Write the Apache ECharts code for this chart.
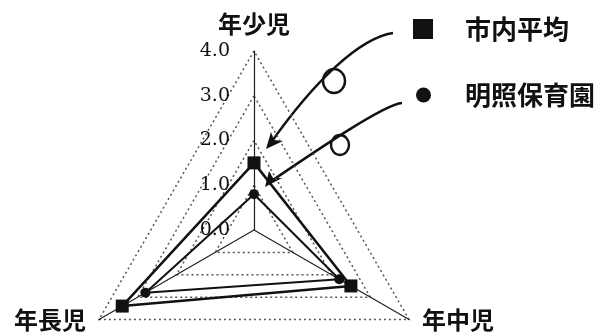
<!DOCTYPE html>
<html>
<head>
<meta charset="utf-8">
<script src="https://cdn.jsdelivr.net/npm/echarts@6/dist/echarts.min.js"></script>
<style>
  html, body { margin: 0; padding: 0; background: #fff; }
  #main { width: 604px; height: 332px; }
</style>
</head>
<body>
<div id="main"></div>
<script>
// 軸（年齢区分）
var indicators = ['年少児', '年長児', '年中児'];
var axisMax = 4;
// 系列の値
var cityAvg = [1.5, 3.4, 2.5];     // 市内平均
var meisho = [0.8, 2.8, 2.2];      // 明照保育園
var seriesNames = ['市内平均', '明照保育園'];

window.addEventListener("load", function () {
    var myChart = echarts.init(document.getElementById('main'));

    var cjk = '"Noto Sans CJK JP", sans-serif';
    var nameFont = { color: '#111', fontFamily: cjk, fontSize: 24, fontWeight: 'bold' };

    var option = {
        animation: false,
        backgroundColor: '#fff',
        legend: [
            {
                data: [{ name: seriesNames[0], icon: 'rect' }],
                left: 413, top: 16,
                padding: 0,
                itemWidth: 20, itemHeight: 20,
                selectedMode: false,
                textStyle: { fontFamily: cjk, fontSize: 26, fontWeight: 'bold', color: '#111', padding: [10, 0, 0, 27] }
            },
            {
                data: [{ name: seriesNames[1], icon: 'circle' }],
                left: 416, top: 82,
                padding: 0,
                itemWidth: 15, itemHeight: 15,
                selectedMode: false,
                textStyle: { fontFamily: cjk, fontSize: 26, fontWeight: 'bold', color: '#111', padding: [0, 0, 0, 29] }
            }
        ],
        radar: {
            center: [254, 230],
            radius: 179,
            startAngle: 90,
            splitNumber: 4,
            shape: 'polygon',
            nameGap: 15,
            axisName: {
                color: '#111',
                fontFamily: cjk,
                fontSize: 24,
                fontWeight: 'bold',
                // 上の軸名はそのまま、下の2つは少し上げる
                formatter: function (name) {
                    return name === indicators[0] ? '{t|' + name + '}' : '{b|' + name + '}';
                },
                rich: {
                    t: nameFont,
                    b: echarts.util.extend({ padding: [0, 0, 14, 0] }, nameFont)
                }
            },
            indicator: indicators.map(function (n, i) {
                var ind = { name: n, min: 0, max: axisMax };
                if (i === 0) {
                    ind.axisLabel = {
                        show: true,
                        color: '#111',
                        fontFamily: '"DejaVu Serif", serif',
                        fontSize: 19,
                        align: 'right',
                        padding: [0, 16, 0, 0],
                        formatter: function (v) { return v.toFixed(1); }
                    };
                }
                return ind;
            }),
            axisLabel: { show: false },
            axisLine: { lineStyle: { color: '#222', width: 1.2 } },
            axisTick: { show: false },
            splitArea: { show: false },
            splitLine: { lineStyle: { color: '#555', width: 1.5, type: [2, 3] } }
        },
        series: [
            {
                name: seriesNames[0],
                type: 'radar',
                symbol: 'rect',
                symbolSize: 13,
                itemStyle: { color: '#111' },
                lineStyle: { color: '#111', width: 2.5 },
                data: [{ value: cityAvg, name: seriesNames[0] }]
            },
            {
                name: seriesNames[1],
                type: 'radar',
                symbol: 'circle',
                symbolSize: 10,
                itemStyle: { color: '#111' },
                lineStyle: { color: '#111', width: 2 },
                data: [{ value: meisho, name: seriesNames[1] }]
            }
        ],
        // 手書き風の引き出し線
        graphic: [
            {
                type: 'bezierCurve',
                shape: { x1: 393, y1: 33, cpx1: 360, cpy1: 38, cpx2: 315, cpy2: 80, x2: 270, y2: 144 },
                style: { stroke: '#111', lineWidth: 2.5, fill: null }
            },
            {
                type: 'ellipse',
                shape: { cx: 334, cy: 81, rx: 11, ry: 12 },
                style: { stroke: '#111', lineWidth: 2.4, fill: null }
            },
            {
                type: 'polygon',
                shape: { points: [[266, 149], [271, 132], [274, 140], [283, 141]] },
                style: { fill: '#111' }
            },
            {
                type: 'bezierCurve',
                shape: { x1: 402, y1: 103, cpx1: 385, cpy1: 104, cpx2: 320, cpy2: 148, x2: 270, y2: 182 },
                style: { stroke: '#111', lineWidth: 2.5, fill: null }
            },
            {
                type: 'ellipse',
                shape: { cx: 340, cy: 145, rx: 9, ry: 10 },
                style: { stroke: '#111', lineWidth: 2.4, fill: null }
            },
            {
                type: 'polygon',
                shape: { points: [[265, 187], [269, 171], [273, 178], [282, 178]] },
                style: { fill: '#111' }
            }
        ]
    };

    myChart.setOption(option);
}, false);
</script>
</body>
</html>
